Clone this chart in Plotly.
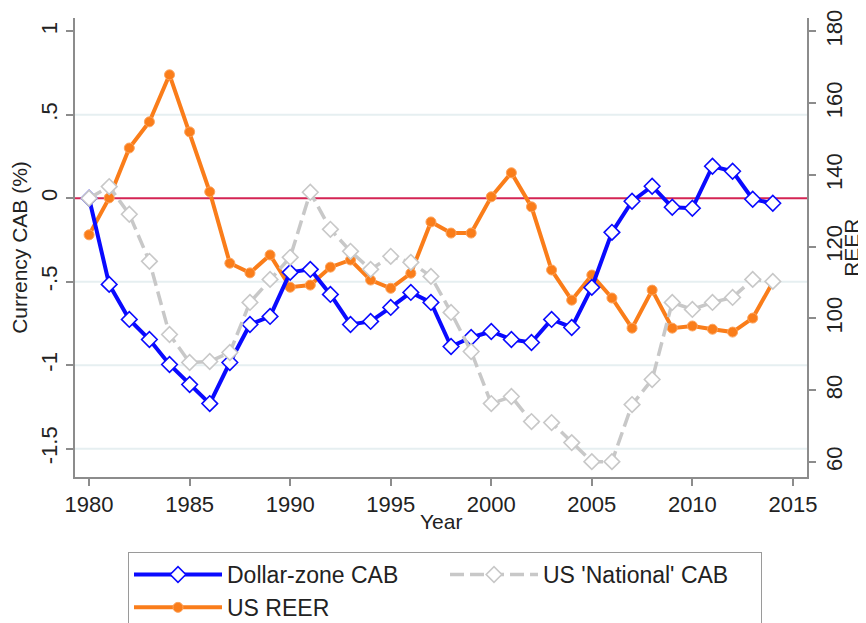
import plotly.graph_objects as go

# ---------------- data ----------------
years = list(range(1980, 2015))

dollar_zone_cab = [0.0, -0.516, -0.726, -0.846, -0.996, -1.116, -1.23, -0.984, -0.756, -0.708,
                   -0.444, -0.426, -0.576, -0.756, -0.738, -0.654, -0.564, -0.624, -0.888, -0.834,
                   -0.798, -0.846, -0.864, -0.726, -0.774, -0.534, -0.204, -0.018, 0.072, -0.054,
                   -0.06, 0.192, 0.162, -0.006, -0.03]

us_national_cab = [0.0, 0.07, -0.096, -0.378, -0.816, -0.984, -0.978, -0.924, -0.624, -0.486,
                   -0.354, 0.036, -0.186, -0.318, -0.426, -0.348, -0.384, -0.468, -0.684, -0.918,
                   -1.23, -1.188, -1.338, -1.344, -1.464, -1.578, -1.578, -1.236, -1.086, -0.624,
                   -0.666, -0.624, -0.594, -0.486, -0.498]

us_reer = [123.3, 133.6, 147.5, 154.8, 167.9, 152.0, 135.3, 115.4, 112.7, 117.7,
           108.7, 109.3, 114.3, 116.3, 110.7, 108.4, 112.6, 126.9, 123.8, 123.8,
           133.9, 140.6, 131.1, 113.5, 105.1, 112.1, 105.7, 97.3, 107.9, 97.3,
           97.9, 97.0, 96.2, 100.1, 110.1]

x_ticks = [1980, 1985, 1990, 1995, 2000, 2005, 2010, 2015]
cab_ticks = [1, 0.5, 0, -0.5, -1, -1.5]
cab_tick_labels = ["1", ".5", "0", "-.5", "-1", "-1.5"]
cab_grid = [0.5, -0.5, -1, -1.5]
reer_ticks = [60, 80, 100, 120, 140, 160, 180]

# ---------------- styles ----------------
FONT = "Liberation Sans, Arial, sans-serif"
BLUE = "#0A0AFF"
ORANGE = "#FA7D1A"
GRAY = "#C8C8C8"
AXIS = "#8C8C8C"
GRID = "#E6EFF1"
RED = "#D42554"
TXT = "#222222"

# the page body adds an 8px offset; figure is sized to compensate
OFF = 8
W, H = 866 - OFF, 623 - OFF

fig = go.Figure()

fig.add_trace(go.Scatter(
    x=years, y=us_reer, name="US REER", yaxis="y", mode="lines+markers",
    line=dict(color=ORANGE, width=4),
    marker=dict(symbol="circle", size=10, color=ORANGE,
                line=dict(color="#FDA35C", width=1)),
    legendrank=3))

fig.add_trace(go.Scatter(
    x=years, y=dollar_zone_cab, name="Dollar-zone CAB", yaxis="y2", mode="lines+markers",
    line=dict(color=BLUE, width=4),
    marker=dict(symbol="diamond", size=12, color="white",
                line=dict(color=BLUE, width=1.6)),
    legendrank=1))

fig.add_trace(go.Scatter(
    x=years, y=us_national_cab, name="US 'National' CAB", yaxis="y2", mode="lines+markers",
    line=dict(color=GRAY, width=3.5, dash="14px,6px"),
    marker=dict(symbol="diamond", size=12, color="white",
                line=dict(color=GRAY, width=1.6)),
    legendrank=2))

shapes = []
for g in cab_grid:
    shapes.append(dict(type="line", xref="paper", x0=0, x1=1, yref="y2", y0=g, y1=g,
                       line=dict(color=GRID, width=2), layer="below"))
shapes.append(dict(type="line", xref="paper", x0=0, x1=1, yref="y2", y0=0, y1=0,
                   line=dict(color=RED, width=2), layer="below"))

axis_common = dict(showline=True, linecolor=AXIS, linewidth=2, ticks="outside",
                   ticklen=7, tickwidth=2, tickcolor=AXIS, showgrid=False, zeroline=False,
                   automargin=False,
                   tickfont=dict(family=FONT, size=22, color=TXT),
                   title_font=dict(family=FONT, size=21, color=TXT))

plot_left, plot_right = 75, 806.7
plot_top, plot_bottom = 18 - OFF, 476.7 - OFF
plot_h = plot_bottom - plot_top
plot_w = plot_right - plot_left

fig.update_layout(
    width=W, height=H,
    margin=dict(l=plot_left - OFF, r=W - (plot_right - OFF), t=plot_top, b=H - plot_bottom,
                autoexpand=False),
    paper_bgcolor="white", plot_bgcolor="white",
    font=dict(family=FONT, color=TXT),
    showlegend=True,
    shapes=shapes,
    annotations=[
        dict(text="Year", xref="paper", yref="paper", x=0.5,
             y=-(521 - 476.7) / plot_h, xanchor="center", yanchor="middle",
             showarrow=False, font=dict(family=FONT, size=21, color=TXT)),
        dict(text="REER", xref="paper", yref="paper", x=(851 - plot_left) / plot_w,
             y=0.5, xanchor="center", yanchor="middle", textangle=-90,
             showarrow=False, font=dict(family=FONT, size=21, color=TXT)),
    ],
    xaxis=dict(range=[1979.3, 2015.7], tickvals=x_ticks, **axis_common),
    yaxis=dict(range=[55.81, 183.74], side="right", tickvals=reer_ticks, tickangle=-90,
               **axis_common),
    yaxis2=dict(range=[-1.670, 1.080], side="left", overlaying="y", tickvals=cab_ticks,
                ticktext=cab_tick_labels, tickangle=-90,
                title=dict(text="Currency CAB (%)", standoff=8), **axis_common),
    legend=dict(orientation="h", xref="container", yref="container",
                x=(128 - OFF) / W, xanchor="left", y=1 - (552 - OFF) / H, yanchor="top",
                bordercolor="#9A9A9A", borderwidth=1, bgcolor="white",
                font=dict(family=FONT, size=23, color=TXT),
                itemwidth=88, entrywidth=213, entrywidthmode="pixels",
                tracegroupgap=0),
)

fig.write_html("out.html")
